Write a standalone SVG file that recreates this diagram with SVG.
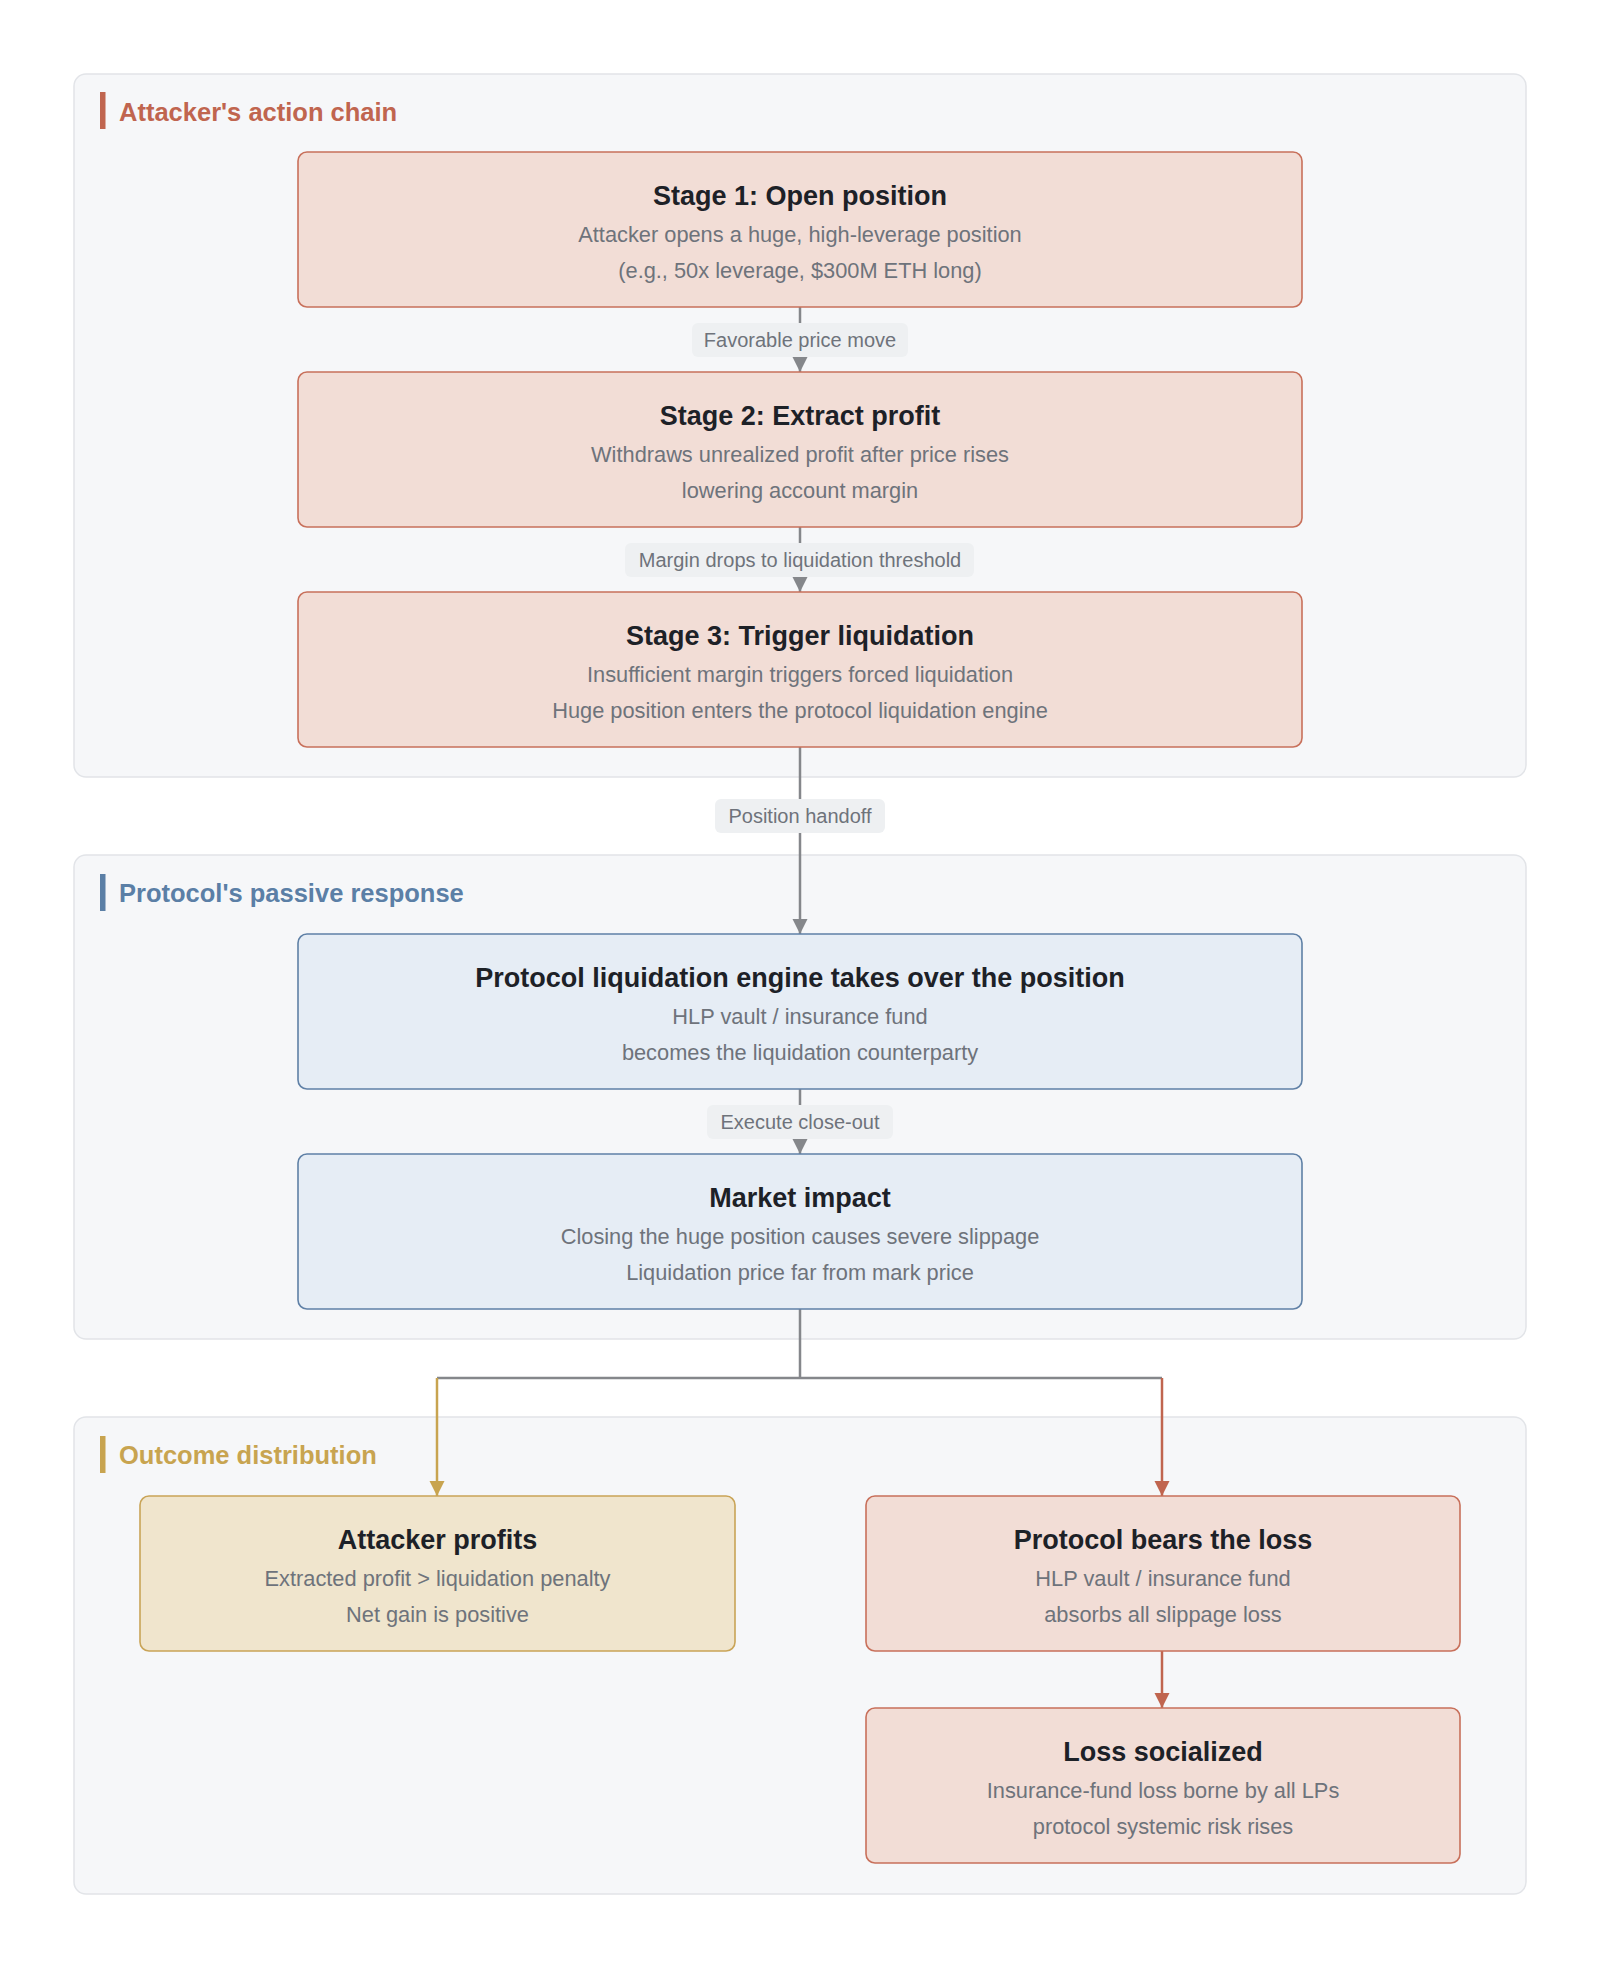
<svg xmlns="http://www.w3.org/2000/svg" width="1600" height="1968" viewBox="0 0 1600 1968">
<defs>
<style>
.cl{fill:#f6f7f9;stroke:#e2e4e8;stroke-width:1.5}
.ct{font-family:"Liberation Sans",Arial,sans-serif;font-size:25.5px;font-weight:bold}
.nr{fill:#f2ddd6;stroke:#c8705b;stroke-width:1.6}
.nb{fill:#e6edf5;stroke:#5f80a6;stroke-width:1.6}
.ny{fill:#f0e5cd;stroke:#c9a457;stroke-width:1.6}
.t{font-family:"Liberation Sans",Arial,sans-serif;font-size:27px;font-weight:bold;fill:#1d2127;text-anchor:middle}
.s{font-family:"Liberation Sans",Arial,sans-serif;font-size:21.8px;fill:#6e737b;text-anchor:middle}
.lb{fill:#eef0f2}
.lt{font-family:"Liberation Sans",Arial,sans-serif;font-size:20px;fill:#6e737b;text-anchor:middle}
.e{fill:none;stroke:#85878b;stroke-width:2.5}
.er{fill:none;stroke:#c0654f;stroke-width:2.5}
.ey{fill:none;stroke:#c8a450;stroke-width:2.5}
</style>
<marker id="ag" markerWidth="15" markerHeight="16" refX="15" refY="7.5" orient="auto" markerUnits="userSpaceOnUse" viewBox="0 0 15 15"><path d="M0,0 L15,7.5 L0,15 z" fill="#85878b"/></marker>
<marker id="ar" markerWidth="15" markerHeight="16" refX="15" refY="7.5" orient="auto" markerUnits="userSpaceOnUse" viewBox="0 0 15 15"><path d="M0,0 L15,7.5 L0,15 z" fill="#c0654f"/></marker>
<marker id="ay" markerWidth="15" markerHeight="16" refX="15" refY="7.5" orient="auto" markerUnits="userSpaceOnUse" viewBox="0 0 15 15"><path d="M0,0 L15,7.5 L0,15 z" fill="#c8a450"/></marker>
</defs>
<rect width="1600" height="1968" fill="#ffffff"/>

<g id="cluster-attacker">
<rect class="cl" x="74" y="74" width="1452" height="703" rx="12"/>
<rect x="100" y="92" width="5.5" height="37" fill="#c0654f"/>
<text class="ct" x="119" y="120.5" fill="#c0654f">Attacker's action chain</text>
</g>
<g id="cluster-protocol">
<rect class="cl" x="74" y="855" width="1452" height="484" rx="12"/>
<rect x="100" y="874" width="5.5" height="37" fill="#5b7fa6"/>
<text class="ct" x="119" y="901.5" fill="#5b7fa6">Protocol's passive response</text>
</g>
<g id="cluster-outcome">
<rect class="cl" x="74" y="1417" width="1452" height="477" rx="12"/>
<rect x="100" y="1436" width="5.5" height="37" fill="#c8a450"/>
<text class="ct" x="119" y="1463.5" fill="#c8a450">Outcome distribution</text>
</g>

<g id="connectors">
<path class="e" d="M800,307 V372" marker-end="url(#ag)"/>
<path class="e" d="M800,527 V592" marker-end="url(#ag)"/>
<path class="e" d="M800,747 V934" marker-end="url(#ag)"/>
<path class="e" d="M800,1089 V1154" marker-end="url(#ag)"/>
<path class="e" d="M800,1309 V1378 M437,1378 H1162"/>
<path class="ey" d="M437,1378 V1496" marker-end="url(#ay)"/>
<path class="er" d="M1162,1378 V1496" marker-end="url(#ar)"/>
<path class="er" d="M1162,1651 V1708" marker-end="url(#ar)"/>
<rect class="lb" x="692" y="323" width="216" height="34" rx="6"/>
<text class="lt" x="800" y="347">Favorable price move</text>
<rect class="lb" x="625" y="543" width="349" height="34" rx="6"/>
<text class="lt" x="800" y="567">Margin drops to liquidation threshold</text>
<rect class="lb" x="715" y="799" width="170" height="34" rx="6"/>
<text class="lt" x="800" y="823">Position handoff</text>
<rect class="lb" x="707" y="1105" width="186" height="34" rx="6"/>
<text class="lt" x="800" y="1129">Execute close-out</text>
</g>

<g id="stage1">
<rect class="nr" x="298" y="152" width="1004" height="155" rx="9"/>
<text class="t" x="800" y="205">Stage 1: Open position</text>
<text class="s" x="800" y="242">Attacker opens a huge, high-leverage position</text>
<text class="s" x="800" y="277.5">(e.g., 50x leverage, $300M ETH long)</text>
</g>
<g id="stage2">
<rect class="nr" x="298" y="372" width="1004" height="155" rx="9"/>
<text class="t" x="800" y="425">Stage 2: Extract profit</text>
<text class="s" x="800" y="462">Withdraws unrealized profit after price rises</text>
<text class="s" x="800" y="497.5">lowering account margin</text>
</g>
<g id="stage3">
<rect class="nr" x="298" y="592" width="1004" height="155" rx="9"/>
<text class="t" x="800" y="645">Stage 3: Trigger liquidation</text>
<text class="s" x="800" y="682">Insufficient margin triggers forced liquidation</text>
<text class="s" x="800" y="717.5">Huge position enters the protocol liquidation engine</text>
</g>
<g id="engine">
<rect class="nb" x="298" y="934" width="1004" height="155" rx="9"/>
<text class="t" x="800" y="987">Protocol liquidation engine takes over the position</text>
<text class="s" x="800" y="1024">HLP vault / insurance fund</text>
<text class="s" x="800" y="1059.5">becomes the liquidation counterparty</text>
</g>
<g id="market">
<rect class="nb" x="298" y="1154" width="1004" height="155" rx="9"/>
<text class="t" x="800" y="1207">Market impact</text>
<text class="s" x="800" y="1244">Closing the huge position causes severe slippage</text>
<text class="s" x="800" y="1279.5">Liquidation price far from mark price</text>
</g>
<g id="attacker-profits">
<rect class="ny" x="140" y="1496" width="595" height="155" rx="9"/>
<text class="t" x="437.5" y="1549">Attacker profits</text>
<text class="s" x="437.5" y="1586">Extracted profit &gt; liquidation penalty</text>
<text class="s" x="437.5" y="1621.5">Net gain is positive</text>
</g>
<g id="protocol-loss">
<rect class="nr" x="866" y="1496" width="594" height="155" rx="9"/>
<text class="t" x="1163" y="1549">Protocol bears the loss</text>
<text class="s" x="1163" y="1586">HLP vault / insurance fund</text>
<text class="s" x="1163" y="1621.5">absorbs all slippage loss</text>
</g>
<g id="loss-socialized">
<rect class="nr" x="866" y="1708" width="594" height="155" rx="9"/>
<text class="t" x="1163" y="1761">Loss socialized</text>
<text class="s" x="1163" y="1798">Insurance-fund loss borne by all LPs</text>
<text class="s" x="1163" y="1833.5">protocol systemic risk rises</text>
</g>
</svg>
